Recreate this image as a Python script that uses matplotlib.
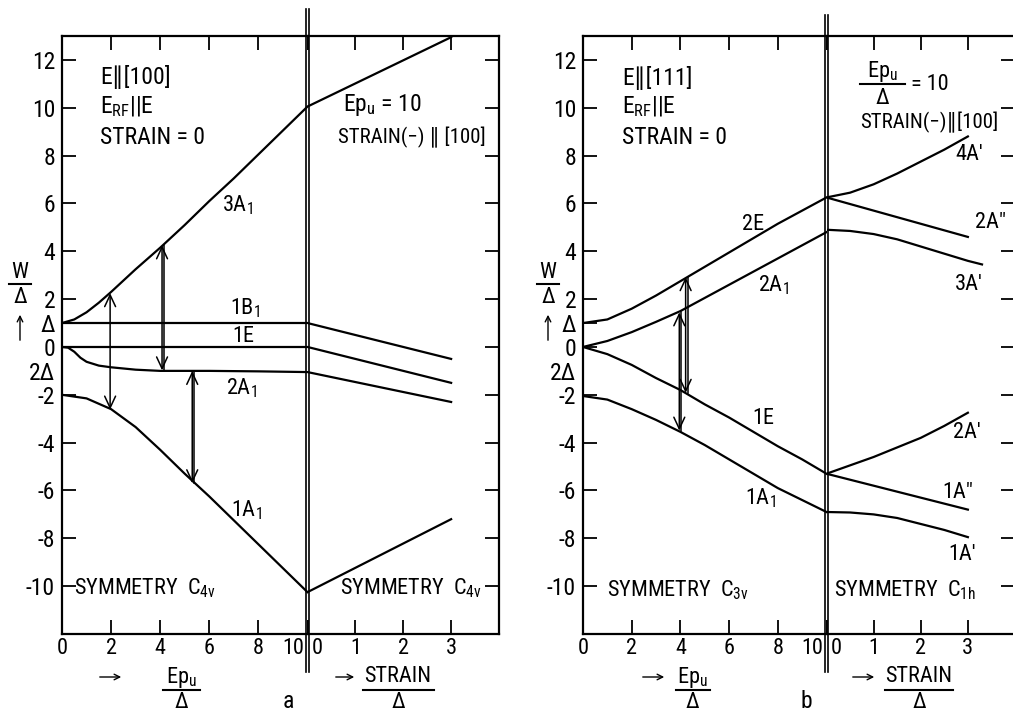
import matplotlib
matplotlib.use('Agg')
import matplotlib.pyplot as plt
from matplotlib import font_manager
from matplotlib.lines import Line2D
from matplotlib.patches import FancyArrowPatch
from matplotlib.transforms import ScaledTranslation

names = sorted({f.name for f in font_manager.fontManager.ttflist})
main = 'Roboto Condensed' if 'Roboto Condensed' in names else 'Roboto'
plt.rcParams['font.family'] = [main, 'DejaVu Sans']
plt.rcParams['mathtext.fontset'] = 'custom'
plt.rcParams['mathtext.rm'] = main
plt.rcParams['mathtext.default'] = 'regular'

W, H = 1013, 712

# ---------------- panel a : E || [100] ----------------
ep_a = [0, 0.5, 1, 1.5, 2, 3, 4, 5, 6, 7, 8, 9, 10]
a_3A1 = [1.0, 1.15, 1.45, 1.85, 2.3, 3.25, 4.15, 5.1, 6.1, 7.05, 8.05, 9.05, 10.05]
ep_flat = [0, 10]
a_1B1 = [1, 1]
a_1E = [0, 0]
ep_a2 = [0, 0.25, 0.5, 0.75, 1, 1.5, 2, 3, 4, 6, 8, 10]
a_2A1 = [0, -0.03, -0.2, -0.45, -0.62, -0.78, -0.85, -0.95, -1.0, -1.0, -1.02, -1.05]
ep_a3 = [0, 1, 2, 3, 4, 5, 6, 7, 8, 9, 10]
a_1A1 = [-2.0, -2.15, -2.6, -3.35, -4.3, -5.3, -6.25, -7.25, -8.25, -9.25, -10.25]

strain_a = [0, 3]
a_s_top = [10.05, 12.95]
a_s_1B1 = [1.0, -0.5]
a_s_1E = [0, -1.5]
a_s_2A1 = [-1.05, -2.3]
a_s_bot = [-10.25, -7.2]

# transitions (x, upper level, lower level, drawn double)
arr_a_x = [1.96, 4.12, 5.35]
arr_a_top = [2.25, 4.25, -1.0]
arr_a_bot = [-2.62, -0.98, -5.7]
arr_a_dbl = [False, True, True]

# ---------------- panel b : E || [111] ----------------
ep_b = [0, 1, 2, 3, 4, 5, 6, 7, 8, 9, 10]
b_2E = [1.0, 1.15, 1.6, 2.15, 2.75, 3.35, 3.95, 4.55, 5.15, 5.7, 6.25]
b_2A1 = [0, 0.25, 0.62, 1.05, 1.5, 2.05, 2.6, 3.15, 3.7, 4.25, 4.8]
b_1E = [0, -0.3, -0.75, -1.3, -1.8, -2.4, -2.95, -3.55, -4.15, -4.7, -5.3]
b_1A1 = [-2.05, -2.2, -2.6, -3.05, -3.55, -4.1, -4.7, -5.3, -5.9, -6.4, -6.9]

strain_b = [0, 0.5, 1, 1.5, 2, 2.5, 3]
b_4A = [6.25, 6.45, 6.8, 7.25, 7.75, 8.25, 8.8]
strain_b2 = [0, 3]
b_2A2 = [6.25, 4.6]
strain_b3 = [0, 0.5, 1, 1.5, 2, 2.5, 3, 3.3]
b_3A = [4.9, 4.85, 4.72, 4.5, 4.2, 3.9, 3.6, 3.45]
b_2A = [-5.3, -4.95, -4.6, -4.2, -3.8, -3.3, -2.75]
b_1A2 = [-5.3, -6.8]
b_1A = [-6.9, -6.92, -7.0, -7.15, -7.4, -7.65, -7.95]

arr_b_x = [4.0, 4.26]
arr_b_top = [1.45, 2.92]
arr_b_bot = [-3.5, -1.92]

# axis ticks
ep_ticks = [0, 2, 4, 6, 8, 10]
ep_labels = ['0', '2', '4', '6', '8', '10']
strain_ticks = [0, 1, 2, 3]
strain_labels = ['0', '1', '2', '3']
y_ticks = [12, 10, 8, 6, 4, 2, 1, 0, -2, -4, -6, -8, -10]
y_labels = ['12', '10', '8', '6', '4', '2', 'Δ', '0', '-2', '-4', '-6', '-8', '-10']
y_ticks_r = [12, 10, 8, 6, 4, 2, 0, -2, -4, -6, -8, -10]

FS = 16
LW = 1.6

fig = plt.figure(figsize=(W / 100, H / 100), dpi=100)


def add_ax(x0, x1):
    return fig.add_axes([x0 / W, (H - 634) / H, (x1 - x0) / W, 598 / H])


def setup_left(ax):
    ax.set_xlim(0, 10)
    ax.set_ylim(-12, 13)
    ax.spines['right'].set_visible(False)
    ax.set_xticks(ep_ticks)
    ax.set_xticklabels(ep_labels)
    ax.set_yticks(y_ticks)
    ax.set_yticklabels(y_labels)
    ax.set_yticks([-1], minor=True)
    ax.set_yticklabels(['2Δ'], minor=True)
    ax.tick_params(which='major', direction='in', length=10, width=1.3,
                   top=True, right=False, labelsize=FS + 1, pad=5)
    ax.tick_params(axis='y', which='minor', length=0, labelsize=FS + 1, pad=5)
    ax.tick_params(axis='x', labelsize=FS, pad=3)
    lab = ax.get_xticklabels()[-1]
    lab.set_ha('right')
    lab.set_transform(lab.get_transform() + ScaledTranslation(-3 / 100, 0, fig.dpi_scale_trans))
    for s in ax.spines.values():
        s.set_linewidth(LW)


def setup_right(ax):
    ax.set_xlim(0, 4)
    ax.set_ylim(-12, 13)
    ax.spines['left'].set_visible(False)
    ax.set_xticks(strain_ticks)
    ax.set_xticklabels(strain_labels)
    ax.set_yticks(y_ticks_r)
    ax.tick_params(direction='in', length=10, width=1.3, top=True, right=True,
                   left=False, labelleft=False, labelsize=FS, pad=3)
    lab = ax.get_xticklabels()[0]
    lab.set_ha('left')
    lab.set_transform(lab.get_transform() + ScaledTranslation(4 / 100, 0, fig.dpi_scale_trans))
    for s in ax.spines.values():
        s.set_linewidth(LW)


def arrows(ax, xs, tops, bots, dbl, dx):
    for x, t, b, d in zip(xs, tops, bots, dbl):
        xa = x - dx if d else x
        ax.annotate('', xy=(xa, t), xytext=(xa, b),
                    arrowprops=dict(arrowstyle='<->,head_length=0.6,head_width=0.28',
                                    lw=1.1, color='k', shrinkA=0, shrinkB=0,
                                    mutation_scale=14))
        if d:
            ax.plot([x + dx, x + dx], [b, t], color='k', lw=1.1)


def ftxt(x, y, s, size=FS, ha='left', va='center'):
    fig.text(x / W, 1 - y / H, s, fontsize=size, ha=ha, va=va)


def fline(x0, x1, y0, y1, lw=1.5):
    fig.add_artist(Line2D([x0 / W, x1 / W], [1 - y0 / H, 1 - y1 / H],
                          transform=fig.transFigure, color='k', lw=lw))


def farrow(x0, x1, y):
    fig.add_artist(FancyArrowPatch((x0 / W, 1 - y / H), (x1 / W, 1 - y / H),
                                   transform=fig.transFigure, arrowstyle='->',
                                   mutation_scale=10, lw=1.0, color='k'))


# ---- panel a
ax1 = add_ax(62, 307.5)
ax2 = add_ax(307.5, 499)
setup_left(ax1)
setup_right(ax2)
for xs, ys in [(ep_a, a_3A1), (ep_flat, a_1B1), (ep_flat, a_1E),
               (ep_a2, a_2A1), (ep_a3, a_1A1)]:
    ax1.plot(xs, ys, color='k', lw=LW)
for ys in [a_s_top, a_s_1B1, a_s_1E, a_s_2A1, a_s_bot]:
    ax2.plot(strain_a, ys, color='k', lw=LW)
arrows(ax1, arr_a_x, arr_a_top, arr_a_bot, arr_a_dbl, 0.045)

# ---- panel b
ax3 = add_ax(583, 826.5)
ax4 = add_ax(826.5, 1015)
setup_left(ax3)
setup_right(ax4)
for ys in [b_2E, b_2A1, b_1E, b_1A1]:
    ax3.plot(ep_b, ys, color='k', lw=LW)
ax4.plot(strain_b, b_4A, color='k', lw=LW)
ax4.plot(strain_b2, b_2A2, color='k', lw=LW)
ax4.plot(strain_b3, b_3A, color='k', lw=LW)
ax4.plot(strain_b, b_2A, color='k', lw=LW)
ax4.plot(strain_b2, b_1A2, color='k', lw=LW)
ax4.plot(strain_b, b_1A, color='k', lw=LW)
arrows(ax3, arr_b_x, arr_b_top, arr_b_bot, [True, True], 0.045)

# double dividing lines
for xd in [306, 309]:
    fline(xd, xd, 9, 672, lw=1.2)
for xd in [825, 828]:
    fline(xd, xd, 15, 672, lw=1.2)

# ---- texts panel a
ftxt(100, 77, 'E∥[100]', size=17)
ftxt(100, 107, 'E$_{RF}$||E', size=17)
ftxt(100, 138, 'STRAIN = 0', size=17)
ftxt(343, 105, 'Ep$_u$ = 10', size=17)
ftxt(338, 137, 'STRAIN(−) ∥ [100]', size=15)
ftxt(222, 205, '3A$_1$')
ftxt(230, 308, '1B$_1$')
ftxt(232, 336, '1E')
ftxt(226, 388, '2A$_1$')
ftxt(231, 510, '1A$_1$')
ftxt(74, 588, 'SYMMETRY  C$_{4v}$')
ftxt(340, 588, 'SYMMETRY  C$_{4v}$')

# ---- texts panel b
ftxt(622, 78, 'E∥[111]', size=17)
ftxt(622, 107, 'E$_{RF}$||E', size=17)
ftxt(622, 138, 'STRAIN = 0', size=17)
ftxt(882, 71, 'Ep$_u$', ha='center')
fline(860, 905, 84, 84)
ftxt(882, 99, 'Δ', ha='center')
ftxt(911, 84, '= 10')
ftxt(860, 122, 'STRAIN(−)∥[100]', size=15)
ftxt(742, 225, '2E')
ftxt(758, 285, '2A$_1$')
ftxt(752, 418, '1E')
ftxt(745, 498, '1A$_1$')
ftxt(955, 155, '4A′')
ftxt(975, 223, '2A″')
ftxt(955, 285, '3A′')
ftxt(953, 433, '2A′')
ftxt(942, 492, '1A″')
ftxt(948, 555, '1A′')
ftxt(607, 590, 'SYMMETRY  C$_{3v}$')
ftxt(834, 590, 'SYMMETRY  C$_{1h}$')

# ---- axis labels
for xl in [20, 548]:
    ftxt(xl, 273, 'W', ha='center')
    fline(xl - 11, xl + 11, 284, 284)
    ftxt(xl, 297, 'Δ', ha='center')
    fig.add_artist(FancyArrowPatch((xl / W, 1 - 343 / H), (xl / W, 1 - 312 / H),
                                   transform=fig.transFigure, arrowstyle='->',
                                   mutation_scale=10, lw=1.0, color='k'))

for xa0, xa1, xc, x0, x1, txt in [(97, 124, 181, 163, 200, 'Ep$_u$'),
                                  (333, 357, 398, 363, 434, 'STRAIN'),
                                  (640, 667, 692, 676, 710, 'Ep$_u$'),
                                  (850, 877, 919, 885, 953, 'STRAIN')]:
    farrow(xa0, xa1, 677)
    ftxt(xc, 677, txt, ha='center', size=16)
    fline(x0, x1, 690, 690)
    ftxt(xc, 702, 'Δ', ha='center', size=16)

ftxt(288, 702, 'a', ha='center', size=17)
ftxt(806, 702, 'b', ha='center', size=17)

fig.savefig('out.png', dpi=100)
